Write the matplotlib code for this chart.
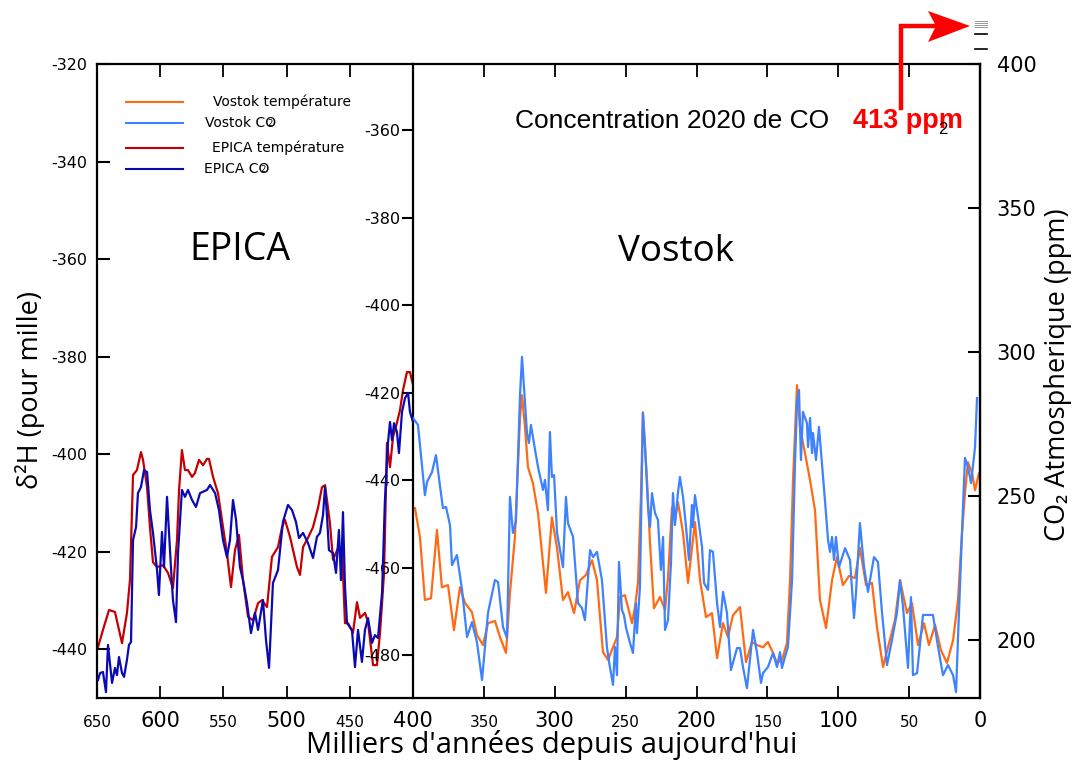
import matplotlib
matplotlib.use('Agg')
import matplotlib.pyplot as plt
from matplotlib.lines import Line2D
from matplotlib.patches import Polygon

plt.rcParams['axes.unicode_minus'] = False

# ── Data (ages in ka BP) ────────────────────────────────────────────────────
epica_temp_age = [
    649.2, 645.3, 640.5, 635.8, 630.2, 626.3, 623.9, 621.5, 618.4, 615.2,
    613.6, 610.4, 608.1, 605.7, 602.5, 597.8, 593.8, 589.9, 586.7, 585.1,
    582.8, 580.4, 578.0, 574.8, 572.5, 569.3, 566.1, 563.0, 561.4, 558.2,
    554.3, 550.3, 547.2, 544.0, 540.8, 537.7, 534.5, 530.5, 526.6, 522.6,
    519.5, 515.5, 511.6, 506.8, 503.6, 501.3, 497.3, 491.8, 489.4, 487.0,
    483.1, 479.1, 475.2, 472.0, 469.6, 465.7, 463.3, 459.3, 456.2, 453.8,
    451.4, 447.5, 444.3, 441.9, 437.9, 435.6, 431.6, 428.5, 426.1, 422.9,
    420.6, 418.2, 415.8, 412.7, 410.3, 407.9, 404.8, 402.4, 400.0]
epica_temp_dd = [
    -439.6, -436.1, -432.0, -432.4, -438.8, -432.6, -425.8, -404.3, -403.3, -399.6,
    -401.2, -406.8, -415.0, -422.2, -423.2, -422.8, -424.4, -427.5, -417.6, -407.4,
    -399.2, -403.3, -403.3, -404.7, -403.9, -401.2, -402.3, -401.0, -401.0, -404.7,
    -408.0, -415.0, -420.3, -427.3, -419.7, -416.6, -425.8, -433.4, -434.1, -430.6,
    -430.0, -431.4, -421.1, -419.1, -415.0, -413.5, -417.0, -423.2, -424.8, -419.1,
    -417.2, -415.0, -411.1, -406.8, -406.4, -414.2, -421.7, -419.3, -419.1, -434.7,
    -434.7, -436.7, -430.4, -433.6, -432.6, -434.5, -443.3, -443.3, -436.7, -424.4,
    -397.7, -402.7, -396.5, -393.6, -391.0, -386.9, -383.2, -383.2, -385.8]

epica_co2_age = [
    649.2, 647.6, 645.3, 642.9, 641.3, 638.1, 635.8, 634.2, 632.6, 630.2,
    628.6, 626.3, 624.7, 623.1, 621.5, 619.1, 617.6, 615.2, 612.8, 610.4,
    608.1, 605.7, 602.5, 601.0, 598.6, 597.0, 594.6, 591.5, 589.9, 587.5,
    585.9, 582.8, 580.4, 578.0, 574.8, 571.7, 568.5, 563.0, 560.6, 556.6,
    553.5, 550.3, 547.2, 544.8, 542.4, 540.0, 536.9, 534.5, 531.3, 528.2,
    525.0, 522.6, 518.7, 516.3, 513.9, 510.8, 506.8, 502.9, 498.9, 495.7,
    492.6, 490.2, 487.0, 483.1, 479.1, 476.0, 473.6, 471.2, 469.6, 468.0,
    466.5, 463.3, 460.9, 458.6, 457.0, 455.4, 453.8, 452.2, 448.3, 445.9,
    443.5, 440.4, 438.0, 435.6, 432.4, 430.1, 427.7, 424.5, 422.2, 419.8,
    418.2, 416.6, 415.0, 412.7, 411.1, 408.7, 406.3, 403.9, 402.4, 400.0]
epica_co2_ppm = [
    186.1, 188.5, 188.9, 181.9, 198.3, 185.1, 190.3, 187.8, 194.1, 188.5,
    187.2, 193.1, 198.3, 199.3, 234.7, 239.2, 251.0, 253.1, 259.0, 258.3,
    245.1, 237.2, 224.3, 215.6, 237.5, 225.3, 249.7, 225.3, 213.9, 206.2,
    230.2, 252.1, 249.7, 252.1, 248.6, 246.2, 251.0, 252.1, 253.8, 251.0,
    245.1, 234.7, 228.8, 234.7, 248.6, 241.7, 225.3, 220.8, 212.8, 202.4,
    209.4, 203.5, 213.9, 200.0, 190.3, 219.8, 224.3, 241.0, 246.9, 245.1,
    241.0, 235.4, 237.2, 233.7, 228.5, 235.8, 237.2, 243.4, 253.1, 242.7,
    231.2, 230.2, 223.3, 238.2, 220.8, 244.4, 218.4, 205.9, 203.5, 190.6,
    203.5, 192.4, 203.5, 207.6, 199.0, 201.7, 200.7, 216.3, 248.6, 268.4,
    275.7, 269.4, 275.3, 272.2, 264.9, 279.2, 284.0, 285.8, 279.2, 275.7]

vostok_temp_age = [
    398.6, 395.1, 391.6, 387.3, 383.1, 379.6, 375.3, 371.1, 366.9, 363.3,
    358.4, 354.9, 350.6, 347.1, 342.2, 338.6, 334.4, 331.6, 328.1, 326.6,
    324.5, 323.1, 321.0, 318.9, 315.4, 311.8, 306.2, 302.0, 298.4, 294.2,
    290.7, 286.4, 282.2, 278.0, 273.7, 270.2, 266.0, 262.4, 258.9, 256.1,
    254.0, 250.5, 245.5, 243.4, 241.3, 239.2, 237.8, 234.9, 232.8, 230.0,
    225.8, 222.2, 220.1, 217.3, 215.2, 213.1, 209.5, 206.0, 201.1, 197.5,
    193.3, 189.1, 185.5, 181.3, 177.8, 174.3, 169.3, 165.1, 160.9, 157.3,
    153.1, 149.6, 146.0, 143.2, 139.7, 136.2, 134.0, 131.9, 129.1, 127.0,
    123.5, 119.9, 116.4, 112.9, 108.6, 104.4, 100.9, 96.7, 92.4, 88.2,
    84.7, 80.4, 76.2, 72.7, 68.4, 64.9, 60.0, 56.4, 51.5, 48.0,
    43.7, 39.5, 36.0, 31.7, 27.5, 23.3, 19.0, 15.5, 12.7, 10.6,
    8.5, 5.6, 3.5, 0.7]
vostok_temp_dd = [
    -446.4, -453.0, -467.4, -467.0, -451.4, -464.5, -464.0, -474.3, -464.5, -468.1,
    -470.2, -475.4, -477.7, -472.7, -472.2, -475.9, -479.5, -465.8, -453.0, -441.6,
    -425.6, -420.6, -427.9, -437.0, -440.7, -447.5, -465.8, -448.5, -455.5, -467.4,
    -465.6, -470.4, -462.9, -461.7, -458.3, -462.9, -479.3, -481.1, -478.2, -475.9,
    -466.7, -466.3, -472.7, -469.0, -463.5, -443.9, -424.5, -440.0, -454.4, -469.3,
    -466.7, -469.7, -462.2, -446.2, -449.1, -445.0, -452.1, -463.5, -449.6, -462.9,
    -471.3, -470.4, -480.7, -472.7, -475.9, -470.9, -469.0, -481.6, -477.0, -477.7,
    -478.2, -477.0, -479.5, -481.8, -481.1, -477.3, -462.9, -440.0, -418.3, -427.9,
    -433.8, -440.0, -446.9, -467.4, -473.8, -462.9, -457.6, -464.0, -461.9, -462.4,
    -455.5, -464.0, -463.5, -473.6, -482.7, -478.2, -472.0, -462.9, -470.4, -468.1,
    -477.7, -472.7, -477.7, -473.1, -478.9, -481.8, -476.6, -467.4, -452.1, -443.0,
    -435.9, -438.4, -442.3, -438.4]

vostok_co2_age = [
    400.0, 396.5, 391.6, 390.1, 386.6, 383.8, 378.9, 376.7, 373.9, 372.5,
    369.0, 365.4, 361.9, 358.4, 354.9, 351.3, 347.1, 342.2, 340.0, 336.5,
    333.7, 331.6, 329.5, 327.4, 324.5, 323.1, 321.7, 319.6, 318.2, 316.8,
    313.9, 311.8, 308.3, 306.9, 304.8, 303.4, 302.0, 300.5, 298.4, 294.2,
    292.1, 290.7, 287.1, 283.6, 280.8, 278.7, 275.1, 273.0, 270.2, 266.7,
    263.2, 261.7, 258.9, 257.5, 256.1, 254.7, 252.6, 251.2, 249.7, 246.9,
    244.8, 242.7, 242.0, 239.9, 237.8, 236.3, 234.2, 232.8, 231.4, 229.3,
    227.2, 225.1, 223.6, 222.2, 220.1, 218.0, 216.6, 215.2, 213.1, 211.7,
    209.5, 207.4, 205.3, 203.2, 202.5, 201.1, 198.9, 196.1, 194.7, 191.9,
    190.5, 188.4, 185.5, 183.4, 181.3, 178.5, 175.7, 171.4, 169.3, 167.2,
    164.4, 160.1, 157.3, 154.5, 153.1, 149.6, 146.0, 143.2, 141.1, 139.7,
    137.6, 135.5, 132.6, 130.5, 129.1, 127.7, 126.3, 124.9, 122.1, 121.3,
    119.9, 118.5, 117.8, 115.7, 113.6, 111.5, 109.4, 107.2, 105.8, 104.4,
    103.0, 101.6, 99.5, 95.2, 91.7, 88.9, 87.5, 84.7, 81.8, 79.0,
    74.8, 72.0, 69.1, 65.6, 62.1, 58.6, 56.4, 54.3, 50.8, 48.7,
    47.3, 44.4, 40.2, 33.2, 29.6, 26.1, 22.6, 19.0, 16.9, 15.5,
    12.7, 10.6, 8.5, 6.3, 3.5, 2.1]
vostok_co2_ppm = [
    277.1, 274.7, 250.3, 254.9, 258.3, 264.2, 245.8, 246.2, 239.9, 226.0,
    229.5, 217.4, 201.0, 206.2, 199.3, 186.1, 209.4, 220.8, 220.1, 204.5,
    200.7, 249.7, 237.2, 241.0, 285.1, 298.3, 287.8, 271.9, 268.4, 274.7,
    266.0, 260.1, 252.1, 255.6, 245.1, 272.2, 256.6, 257.3, 237.2, 225.3,
    249.7, 240.6, 235.8, 212.8, 211.1, 206.9, 231.2, 228.8, 230.6, 220.8,
    197.6, 192.4, 184.4, 197.6, 187.8, 227.1, 210.4, 208.7, 204.2, 199.0,
    195.5, 212.8, 202.4, 218.4, 278.8, 267.0, 246.2, 239.2, 251.0, 244.1,
    241.7, 224.3, 235.8, 203.5, 206.9, 226.7, 251.0, 239.9, 251.0, 256.6,
    249.7, 239.2, 227.8, 246.9, 239.2, 250.3, 242.7, 232.3, 219.8, 217.4,
    231.2, 230.6, 212.8, 204.5, 216.7, 209.4, 189.6, 197.2, 197.2, 190.6,
    183.3, 203.5, 195.5, 185.1, 188.5, 190.6, 195.5, 190.6, 195.8, 190.3,
    194.1, 197.6, 220.8, 261.5, 282.3, 286.8, 262.5, 279.2, 275.3, 267.0,
    277.1, 264.9, 271.9, 262.5, 274.0, 261.5, 248.6, 234.7, 230.6, 235.8,
    227.8, 235.8, 225.3, 231.9, 227.8, 207.6, 216.3, 240.6, 225.3, 216.7,
    228.8, 227.1, 209.4, 191.3, 200.0, 209.4, 220.8, 211.5, 190.3, 214.9,
    187.8, 188.5, 208.7, 208.7, 197.6, 187.8, 191.3, 187.8, 181.9, 201.0,
    237.2, 263.2, 260.1, 254.5, 267.0, 284.0]

epica_ticks = [650, 600, 550, 500, 450]
vostok_ticks = [400, 350, 300, 250, 200, 150, 100, 50, 0]
epica_dd_ticks = [-440, -420, -400, -380, -360, -340, -320]
vostok_dd_ticks = [-480, -460, -440, -420, -400, -380, -360]
co2_ticks = [200, 250, 300, 350, 400]

# ── Colours / fonts ─────────────────────────────────────────────────────────
C_VT = '#ff6a14'    # Vostok temperature
C_VC = '#3d82ff'    # Vostok CO2
C_ET = '#c40000'    # EPICA temperature
C_EC = '#0a0ab4'    # EPICA CO2
LABEL_FONT = ['Open Sans', 'DejaVu Sans']
NARROW_FONT = ['Liberation Sans Narrow', 'Liberation Sans', 'DejaVu Sans']

W, H = 1080, 764
def fx(px): return px / W
def fy(py): return 1 - py / H

fig = plt.figure(figsize=(10.8, 7.64), dpi=100)
fig.patch.set_facecolor('white')

ax_l = fig.add_axes([fx(97), fy(698), (413 - 97) / W, (698 - 64) / H])
ax_r = fig.add_axes([fx(413), fy(698), (980 - 413) / W, (698 - 64) / H])
ax_lc = ax_l.twinx()
ax_rc = ax_r.twinx()

# ── EPICA panel ─────────────────────────────────────────────────────────────
ax_l.plot(epica_temp_age, epica_temp_dd, color=C_ET, lw=1.6)
ax_lc.plot(epica_co2_age, epica_co2_ppm, color=C_EC, lw=1.6)
ax_l.set_xlim(650, 400)
ax_l.set_ylim(-450.05, -320)
ax_lc.set_ylim(179.86, 400)

# ── Vostok panel ────────────────────────────────────────────────────────────
ax_r.plot(vostok_temp_age, vostok_temp_dd, color=C_VT, lw=1.6)
ax_rc.plot(vostok_co2_age, vostok_co2_ppm, color=C_VC, lw=1.6)
ax_r.set_xlim(400, 0)
ax_r.set_ylim(-489.8, -344.9)
ax_rc.set_ylim(179.86, 400)

# ── Spines ──────────────────────────────────────────────────────────────────
for ax in (ax_l, ax_r, ax_rc):
    for s in ax.spines.values():
        s.set_linewidth(1.6)
        s.set_color('black')
ax_l.spines['right'].set_visible(False)
for s in ax_lc.spines.values():
    s.set_visible(False)
for side in ('left', 'top', 'bottom'):
    ax_rc.spines[side].set_visible(False)
ax_lc.yaxis.set_visible(False)

# ── Ticks ───────────────────────────────────────────────────────────────────
ax_l.tick_params(axis='y', direction='in', length=9, width=1.5, pad=7, labelsize=11.5)
ax_l.set_yticks(epica_dd_ticks)
ax_l.tick_params(axis='x', direction='in', length=9, width=1.3, top=True, pad=21)
ax_r.tick_params(axis='x', direction='in', length=9, width=1.3, top=True, pad=21)
ax_r.tick_params(axis='y', direction='out', length=8, width=1.5, pad=1, labelsize=11.5)
ax_r.set_yticks(vostok_dd_ticks)
ax_rc.tick_params(axis='y', direction='in', length=9, width=1.5, pad=12, labelsize=15)
ax_rc.set_yticks(co2_ticks)

ax_l.set_xticks(epica_ticks)
ax_l.set_xticklabels([str(t) for t in epica_ticks])
ax_r.set_xticks(vostok_ticks)
ax_r.set_xticklabels([str(t) for t in vostok_ticks])
for ax in (ax_l, ax_r):
    for t, lab in zip(ax.get_xticks(), ax.get_xticklabels()):
        lab.set_fontsize(15 if int(t) % 100 == 0 else 11)
        lab.set_verticalalignment('baseline')

# ── Labels ──────────────────────────────────────────────────────────────────
ax_l.set_ylabel('δ²H (pour mille)', fontsize=19.5, family=LABEL_FONT)
ax_l.yaxis.set_label_coords((30 - 97) / 316, (698 - 390) / 634)
ax_l.yaxis.label.set_va('center')
ax_rc.set_ylabel('CO₂ Atmospherique (ppm)', fontsize=19.5, family=LABEL_FONT)
ax_rc.yaxis.set_label_coords((1058 - 413) / 567, (698 - 375) / 634)
ax_rc.yaxis.label.set_va('center')
fig.text(fx(552), fy(745), "Milliers d'années depuis aujourd'hui",
         ha='center', va='center', fontsize=21, family=LABEL_FONT)

fig.text(fx(240), fy(250), 'EPICA', ha='center', va='center',
         fontsize=27, family=LABEL_FONT)
fig.text(fx(676), fy(252), 'Vostok', ha='center', va='center',
         fontsize=26.5, family=LABEL_FONT)

# ── Legend (drawn by hand to keep the uneven text offsets) ──────────────────
legend_rows = [
    (102, C_VT, 'Vostok température', 213),
    (123, C_VC, 'Vostok CO', 205),
    (148, C_ET, 'EPICA température', 212),
    (169, C_EC, 'EPICA CO', 204),
]
renderer = fig.canvas.get_renderer()
for y, col, txt, tx in legend_rows:
    fig.add_artist(Line2D([fx(126), fx(183)], [fy(y), fy(y)], color=col, lw=1.5))
    t = fig.text(fx(tx), fy(y), txt, ha='left', va='center', fontsize=10)
    if txt.endswith('CO'):
        bb = t.get_window_extent(renderer)
        fig.text(fx(bb.x1 - 6), fy(y + 0.5), '2', ha='center', va='center',
                 fontsize=6)

# ── 2020 concentration note with red arrow ──────────────────────────────────
fig.text(fx(515), fy(121), 'Concentration 2020 de CO', ha='left', va='center',
         fontsize=19, family=NARROW_FONT)
fig.text(fx(853), fy(121), '413 ppm', ha='left', va='center', color='#ff0000',
         fontsize=19.5, fontweight='bold', family=NARROW_FONT, zorder=5)
fig.text(fx(943), fy(130), '2', ha='center', va='center', fontsize=12,
         family=NARROW_FONT, zorder=6)

fig.add_artist(Line2D([fx(900.5), fx(900.5), fx(936)],
                      [fy(108), fy(26), fy(26)], color='#ff0000', lw=3.2,
                      solid_joinstyle='miter'))
fig.add_artist(Polygon([(fx(928), fy(11)), (fx(970), fy(26)),
                        (fx(928), fy(42)), (fx(936), fy(26))],
                       closed=True, facecolor='#ff0000', edgecolor='none',
                       transform=fig.transFigure))

# small leftover marks above the CO2 axis
for y, col, lw in [(21, '#999999', 0.7), (23, '#999999', 0.7), (24.5, '#999999', 0.7),
                   (26.5, '#999999', 0.7), (34, 'black', 1.2), (49, 'black', 1.2)]:
    fig.add_artist(Line2D([fx(975), fx(987)], [fy(y), fy(y)], color=col, lw=lw))

fig.savefig('out.png', dpi=100, facecolor='white')
